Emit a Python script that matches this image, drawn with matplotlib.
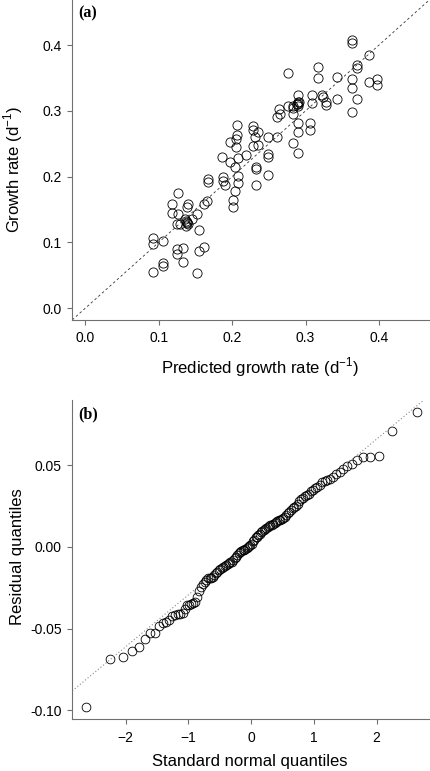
import matplotlib
matplotlib.use('Agg')
import numpy as np
import matplotlib.pyplot as plt
from statistics import NormalDist

plt.rcParams['font.family'] = ['Liberation Sans', 'DejaVu Sans']
plt.rcParams['mathtext.fontset'] = 'custom'
plt.rcParams['mathtext.rm'] = 'Liberation Sans'

# panel (a): predicted vs observed growth rate (d-1)
pred = [0.3629, 0.3629, 0.3869, 0.3706, 0.3706, 0.2757, 0.3166, 0.3166, 0.3425, 0.3629,
        0.3629, 0.3869, 0.3970, 0.3970, 0.2902, 0.3084, 0.3221, 0.3235, 0.3280, 0.3280,
        0.3425, 0.3706, 0.2643, 0.2757, 0.2826, 0.2902, 0.2902, 0.2902, 0.2616, 0.2653,
        0.2826, 0.3084, 0.3629, 0.2902, 0.2902, 0.3061, 0.3061, 0.2280, 0.2289, 0.2312,
        0.2357, 0.2493, 0.2608, 0.2826, 0.2280, 0.2357, 0.2902, 0.2189, 0.2493, 0.2493,
        0.2326, 0.2330, 0.2493, 0.2326, 0.2071, 0.2071, 0.1971, 0.2053, 0.2053, 0.1858,
        0.1971, 0.2084, 0.2040, 0.1676, 0.1676, 0.1880, 0.1880, 0.1903, 0.2084, 0.2084,
        0.2040, 0.2016, 0.2016, 0.1267, 0.1177, 0.1177, 0.1403, 0.1381, 0.1267, 0.1654,
        0.1617, 0.1518, 0.1358, 0.1381, 0.1403, 0.1372, 0.1290, 0.1245, 0.1450, 0.1553,
        0.0918, 0.0918, 0.1063, 0.1245, 0.1245, 0.1327, 0.1327, 0.1553, 0.1617, 0.1063,
        0.1063, 0.0918, 0.1526, 0.1390, 0.1370, 0.2890, 0.2910, 0.2830]
obs = [0.4078, 0.4037, 0.3850, 0.3698, 0.3647, 0.3580, 0.3672, 0.3495, 0.3510, 0.3480,
       0.3343, 0.3444, 0.3480, 0.3394, 0.3242, 0.3242, 0.3242, 0.3207, 0.3140, 0.3090,
       0.3176, 0.3176, 0.3024, 0.3074, 0.3074, 0.3140, 0.3105, 0.3074, 0.2912, 0.2953,
       0.2953, 0.3115, 0.2988, 0.2811, 0.2684, 0.2811, 0.2710, 0.2771, 0.2710, 0.2608,
       0.2684, 0.2608, 0.2608, 0.2508, 0.2467, 0.2482, 0.2365, 0.2330, 0.2345, 0.2295,
       0.2152, 0.2120, 0.2026, 0.1874, 0.2786, 0.2634, 0.2532, 0.2568, 0.2456, 0.2304,
       0.2228, 0.2280, 0.2152, 0.1960, 0.1924, 0.2000, 0.1939, 0.1874, 0.2011, 0.1900,
       0.1787, 0.1646, 0.1535, 0.1757, 0.1585, 0.1453, 0.1585, 0.1535, 0.1433, 0.1635,
       0.1585, 0.1433, 0.1352, 0.1316, 0.1281, 0.1251, 0.1281, 0.1281, 0.1352, 0.1190,
       0.1064, 0.0977, 0.1027, 0.0897, 0.0825, 0.0912, 0.0708, 0.0875, 0.0927, 0.0693,
       0.0643, 0.0556, 0.0541, 0.1300, 0.1330, 0.3100, 0.3130, 0.3050]

# panel (b): sorted model residuals
resid = [-0.0983, -0.0689, -0.0673, -0.0636, -0.0612, -0.0565, -0.0526, -0.0526, -0.0483, -0.0469,
         -0.0459, -0.0450, -0.0425, -0.0418, -0.0413, -0.0410, -0.0405, -0.0380, -0.0357, -0.0354,
         -0.0351, -0.0345, -0.0337, -0.0306, -0.0272, -0.0243, -0.0230, -0.0218, -0.0200, -0.0192,
         -0.0190, -0.0188, -0.0185, -0.0175, -0.0163, -0.0153, -0.0143, -0.0133, -0.0128, -0.0122,
         -0.0116, -0.0111, -0.0105, -0.0100, -0.0095, -0.0090, -0.0082, -0.0070, -0.0062, -0.0050,
         -0.0040, -0.0031, -0.0026, -0.0021, -0.0017, -0.0013, -0.0010, -0.0003, 0.0005, 0.0013,
         0.0020, 0.0034, 0.0042, 0.0058, 0.0063, 0.0072, 0.0080, 0.0088, 0.0094, 0.0103,
         0.0110, 0.0116, 0.0122, 0.0127, 0.0132, 0.0135, 0.0140, 0.0148, 0.0155, 0.0160,
         0.0163, 0.0165, 0.0172, 0.0178, 0.0184, 0.0195, 0.0205, 0.0215, 0.0226, 0.0236,
         0.0245, 0.0252, 0.0265, 0.0280, 0.0292, 0.0302, 0.0310, 0.0316, 0.0326, 0.0340,
         0.0350, 0.0360, 0.0367, 0.0380, 0.0395, 0.0402, 0.0408, 0.0418, 0.0430, 0.0444,
         0.0460, 0.0476, 0.0494, 0.0508, 0.0529, 0.0547, 0.0551, 0.0555, 0.0710, 0.0826]

# normal quantiles like R's qqnorm (ppoints)
n = len(resid)
theo = np.array([NormalDist().inv_cdf((i - 0.5) / n) for i in range(1, n + 1)])
r = np.array(resid)
# qqline through the quartiles
q1, q3 = np.percentile(r, [25, 75])
z1, z3 = NormalDist().inv_cdf(0.25), NormalDist().inv_cdf(0.75)
slope = (q3 - q1) / (z3 - z1)
icpt = q1 - slope * z1

fig = plt.figure(figsize=(4.30, 7.71), dpi=100)
ax1 = fig.add_axes([0.168, 0.585, 0.832, 0.415])
ax2 = fig.add_axes([0.168, 0.067, 0.832, 0.414])

axcol = '#707070'


def style(ax):
    for s in ['top', 'right']:
        ax.spines[s].set_visible(False)
    for s in ['left', 'bottom']:
        ax.spines[s].set_color(axcol)
        ax.spines[s].set_linewidth(0.8)
    ax.tick_params(direction='out', length=3.6, width=0.8, color=axcol,
                   labelsize=10, pad=4)
    ax.tick_params(axis='x', pad=4.5)


# (a)
ax1.plot(pred, obs, 'o', mfc='none', mec='k', ms=6.6, mew=0.6)
ax1.axline((0, 0), slope=1, color='#333333', lw=0.6, ls=(0, (3, 3)))
ax1.set_xlim(-0.0177, 0.4695)
ax1.set_ylim(-0.0178, 0.4685)
ax1.set_xticks([0.0, 0.1, 0.2, 0.3, 0.4])
ax1.set_yticks([0.0, 0.1, 0.2, 0.3, 0.4])
ax1.set_xticklabels(['0.0', '0.1', '0.2', '0.3', '0.4'])
ax1.set_yticklabels(['0.0', '0.1', '0.2', '0.3', '0.4'])
style(ax1)
ax1.set_xlabel('Predicted growth rate (d$^{\\mathregular{-1}}$)', fontsize=12)
ax1.set_ylabel('Growth rate (d$^{\\mathregular{-1}}$)', fontsize=12)
ax1.xaxis.set_label_coords(0.526, -0.112)
ax1.yaxis.set_label_coords(-0.132, 0.469)
ax1.text(0.016, 0.982, '(a)', transform=ax1.transAxes, ha='left', va='top',
         fontsize=11.5, fontweight='bold', family='Liberation Serif')

# (b)
ax2.plot(theo, r, 'o', mfc='none', mec='k', ms=6.3, mew=0.6)
ax2.axline((0, icpt), slope=slope, color='#888888', lw=0.8, ls=(0, (1, 2)))
ax2.set_xlim(-2.85, 2.85)
ax2.set_ylim(-0.1056, 0.0898)
ax2.set_xticks([-2, -1, 0, 1, 2])
ax2.set_yticks([-0.10, -0.05, 0.0, 0.05])
ax2.set_xticklabels(['\u22122', '\u22121', '0', '1', '2'])
ax2.set_yticklabels(['-0.10', '-0.05', '0.00', '0.05'])
style(ax2)
ax2.set_xlabel('Standard normal quantiles', fontsize=12)
ax2.set_ylabel('Residual quantiles', fontsize=12)
ax2.xaxis.set_label_coords(0.495, -0.109)
ax2.yaxis.set_label_coords(-0.132, 0.51)
ax2.text(0.016, 0.982, '(b)', transform=ax2.transAxes, ha='left', va='top',
         fontsize=11.5, fontweight='bold', family='Liberation Serif')

fig.savefig('out.png', dpi=100)
